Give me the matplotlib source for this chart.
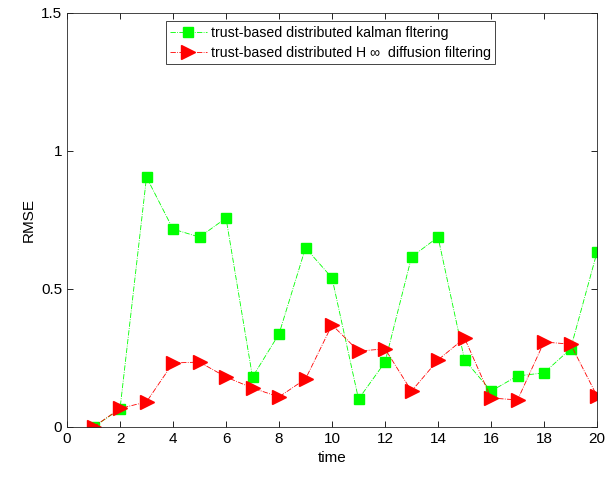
import numpy as np
import matplotlib
matplotlib.use('Agg')
import matplotlib.pyplot as plt

plt.rcParams['font.family'] = ['Liberation Sans', 'DejaVu Sans']

time = np.arange(1, 21)
rmse_kalman = [0.0, 0.065, 0.905, 0.717, 0.688, 0.757, 0.181, 0.337, 0.649, 0.540,
               0.101, 0.235, 0.616, 0.688, 0.243, 0.130, 0.185, 0.196, 0.283, 0.634]
rmse_hinf = [0.0, 0.067, 0.091, 0.232, 0.235, 0.181, 0.141, 0.109, 0.174, 0.370,
             0.275, 0.283, 0.130, 0.243, 0.322, 0.105, 0.098, 0.308, 0.300, 0.112]
labels = ['trust-based distributed kalman fltering',
          'trust-based distributed H \u221e  diffusion filtering']
xticks = np.arange(0, 21, 2)
yticks = [0, 0.5, 1, 1.5]

fig = plt.figure(figsize=(6.13, 4.79), dpi=100)
ax = fig.add_axes([0.1093, 0.1086, 0.8647, 0.8643])

ax.plot(time, rmse_kalman, color=(0, 1, 0), linestyle='-.', linewidth=0.6,
        marker='s', markersize=7, markeredgecolor=(0, 1, 0), label=labels[0])
ax.plot(time, rmse_hinf, color=(1, 0, 0), linestyle='-.', linewidth=0.6,
        marker='>', markersize=9.5, markeredgecolor=(1, 0, 0), label=labels[1])

ax.set_xlim(0, 20)
ax.set_ylim(0, 1.5)
ax.set_xticks(xticks)
ax.set_yticks(yticks)
ax.set_yticklabels(['0', '0.5', '1', '1.5'])
ax.tick_params(direction='in', top=True, right=True, labelsize=11, length=4, width=0.6)
for s in ax.spines.values():
    s.set_linewidth(0.6)
    s.set_color('#262626')
ax.set_xlabel('time', fontsize=11)
ax.set_ylabel('RMSE', fontsize=11)

leg = ax.legend(loc='upper center', bbox_to_anchor=(0.497, 0.99), fontsize=10.2,
                fancybox=False, edgecolor='#262626', framealpha=1,
                handlelength=2.6, borderpad=0.3, labelspacing=0.45, handletextpad=0.3,
                borderaxespad=0.3)
leg.get_frame().set_linewidth(0.6)

fig.savefig('out.png', dpi=100)
